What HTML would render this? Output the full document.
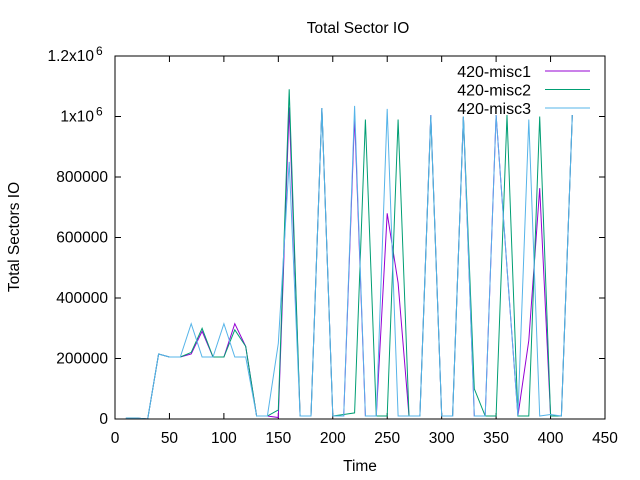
<!DOCTYPE html>
<html><head><meta charset="utf-8"><style>
body{margin:0;background:#fff}
svg{display:block;font-family:"Liberation Sans",sans-serif;font-size:15.5px}
</style></head><body>
<svg id="chart" width="640" height="480" viewBox="0 0 640 480">
<rect width="640" height="480" fill="#fff"/>
<text x="358" y="33" text-anchor="middle">Total Sector IO</text>
<text x="360" y="471" text-anchor="middle">Time</text>
<text transform="translate(19,237) rotate(-90)" text-anchor="middle">Total Sectors IO</text>
<g id="axes"></g>
<g id="series"></g>
<rect x="115" y="56" width="490" height="363" fill="none" stroke="#000" stroke-width="1"/>
<g id="legend"></g>
</svg>
<script>
const xs = [10,20,30,40,50,60,70,80,90,100,110,120,130,140,150,160,170,180,190,200,210,220,230,240,250,260,270,280,290,300,310,320,330,340,350,360,370,380,390,400,410,420];
const misc1 = [3,3,0,215,205,205,215,290,205,205,315,240,10,10,5,1030,10,10,1028,10,10,1000,10,10,680,450,10,10,1005,10,10,1000,10,10,1005,500,10,260,763,10,10,1005];
const misc2 = [3,3,0,215,205,205,220,300,205,205,295,240,10,10,30,1090,10,10,1028,10,15,20,990,10,10,990,10,10,1000,10,10,1000,100,10,10,1005,10,10,1000,10,10,1005];
const misc3 = [3,3,0,215,205,205,315,205,205,315,205,205,10,10,250,850,10,10,1028,10,10,1035,10,10,1025,10,10,10,1005,10,10,1000,10,10,1005,500,10,990,10,15,10,1005];
const seriesNames = ["420-misc1","420-misc2","420-misc3"];
const seriesColors = ["#9400d3","#009e73","#56b4e9"];
const xTicks = [0,50,100,150,200,250,300,350,400,450];
const yTicks = [0,200000,400000,600000,800000];
const NS="http://www.w3.org/2000/svg";
const X0=115,X1=605,Y0=419,Y1=56,XMAX=450,YMAX=1200000;
function sx(v){return X0+(X1-X0)*v/XMAX;}
function sy(v){return Y0-(Y0-Y1)*v/YMAX;}
function mk(tag,attrs,parent){const e=document.createElementNS(NS,tag);for(const k in attrs)e.setAttribute(k,attrs[k]);parent.appendChild(e);return e;}
const axes=document.getElementById('axes');
xTicks.forEach(t=>{
  const x=sx(t);
  const l=mk('path',{d:`M${x},${Y0}v-6M${x},${Y1}v6`,stroke:'#000'},axes);
  
  
  const tx=mk('text',{x:x,y:443,'text-anchor':'middle'},axes);
  tx.textContent=t;
  
  
});
const yAll=yTicks.concat([1000000,1200000]);
yAll.forEach(t=>{
  const y=sy(t);
  const l=mk('path',{d:`M${X0},${y}h6M${X1},${y}h-6`,stroke:'#000'},axes);
  
  
});
yTicks.forEach(t=>{
  const tx=mk('text',{x:108,y:sy(t)+5,'text-anchor':'end'},axes);
  tx.textContent=t;
  
  
});
[[1000000,"1x10"],[1200000,"1.2x10"]].forEach(p=>{
  const tx=mk('text',{x:94,y:sy(p[0])+5,'text-anchor':'end'},axes);
  tx.textContent=p[1];
  
  
  const sp=mk('text',{x:96,y:sy(p[0])-1,'font-size':'12'},axes);
  sp.textContent="6";
  
  
});
const ser=document.getElementById('series');
[misc1,misc2,misc3].forEach((vals,i)=>{
  const d=vals.map((v,j)=>(j?'L':'M')+sx(xs[j]).toFixed(1)+','+sy(v*1000).toFixed(1)).join('');
  const p=mk('path',{d:d,fill:'none',stroke:seriesColors[i],'stroke-width':1},ser);
  
  
});
const lg=document.getElementById('legend');
seriesNames.forEach((n,i)=>{
  const y=71+i*18.5;
  const t=mk('text',{x:531,y:y+6,'text-anchor':'end','font-size':'16'},lg);
  t.textContent=n;
  
  
  const l=mk('line',{x1:545,x2:590,y1:y,y2:y,stroke:seriesColors[i]},lg);
  
  
});
</script>
</body></html>
